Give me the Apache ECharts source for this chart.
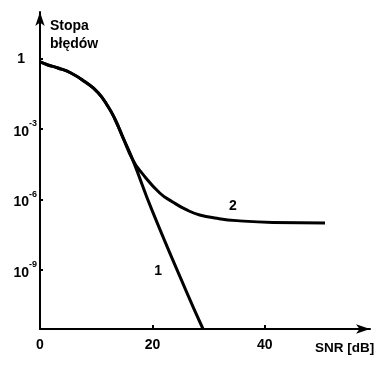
<!DOCTYPE html>
<html>
<head>
<meta charset="utf-8">
<script src="https://cdn.jsdelivr.net/npm/echarts@6/dist/echarts.min.js"></script>
<style>
  html, body { margin: 0; padding: 0; background: #fff; }
  #main { width: 376px; height: 370px; }
</style>
</head>
<body>
<div id="main"></div>
<script>
// wspólny początek obu krzywych (SNR [dB], stopa błędów)
const commonSnr = [0, 1.4, 3.2, 5.5, 8.0, 10.3, 12.1, 13.3, 14.8, 16.5];
const commonBer = [0.74, 0.55, 0.41, 0.25, 0.105, 0.037, 0.0093, 2.8e-3, 4.2e-4, 4.9e-5];
// krzywa 1 - prosta
const snr1 = [19.9, 26.1, 29.0];
const ber1 = [3.6e-7, 1.1e-10, 3.0e-12];
// krzywa 2 - nasycenie
const snr2 = [18.1, 21.3, 23.6, 26.1, 28.4, 31.5, 35.0, 41.4, 50.7];
const ber2 = [1.37e-5, 1.9e-6, 7.9e-7, 3.6e-7, 2.2e-7, 1.58e-7, 1.26e-7, 1.05e-7, 1.0e-7];
// osie
const xTicks = [0, 20, 40];
const yTicks = [1, 1e-3, 1e-6, 1e-9];

const pairs = (xs, ys) => xs.map((x, i) => [x, ys[i]]);

const chart = echarts.init(document.getElementById('main'));
const font = 'Liberation Sans';
const curveLabel = (text, coord) => ({
  symbol: 'circle',
  symbolSize: 1,
  itemStyle: { color: 'rgba(0,0,0,0)' },
  label: { show: true, position: 'inside', formatter: text, color: '#000', fontSize: 14, fontWeight: 'bold', fontFamily: font },
  data: [{ coord: coord }],
});
const option = {
  backgroundColor: '#ffffff',
  animation: false,
  textStyle: { fontFamily: font },
  title: [
    {
      text: 'Stopa\nbłędów',
      left: 50, top: 17,
      padding: 0,
      textStyle: { fontSize: 14, fontWeight: 'bold', color: '#000', lineHeight: 18, fontFamily: font },
    },
  ],
  graphic: [
    {
      type: 'text',
      left: 315, top: 341,
      style: { text: 'SNR [dB]', fontSize: 13.5, fontWeight: 'bold', fill: '#000', fontFamily: font },
    },
  ],
  grid: { left: 40, top: 12, right: 6, bottom: 41, containLabel: false },
  xAxis: {
    type: 'value',
    min: 0, max: 58.7,
    splitLine: { show: false },
    axisLine: { lineStyle: { color: '#000', width: 2 }, symbol: ['none', 'arrow'], symbolSize: [7, 14] },
    axisTick: { customValues: xTicks, length: 4, inside: true, lineStyle: { color: '#000', width: 2 } },
    axisLabel: { customValues: xTicks, color: '#000', fontSize: 14, fontWeight: 'bold', margin: 9 },
  },
  yAxis: {
    type: 'log',
    logBase: 10,
    min: 3.0e-12, max: 100,
    splitLine: { show: false },
    axisLine: { lineStyle: { color: '#000', width: 2 }, symbol: ['none', 'arrow'], symbolSize: [7, 14] },
    axisTick: { customValues: yTicks, length: 3, inside: true, lineStyle: { color: '#000', width: 2 } },
    axisLabel: {
      customValues: yTicks,
      margin: 3,
      color: '#000',
      formatter: (v) => {
        const e = Math.round(Math.log10(v));
        return e === 0 ? '{one|1}' : '{b|10}{s|' + e + '}';
      },
      rich: {
        one: { fontSize: 14, fontWeight: 'bold', color: '#000', fontFamily: font, lineHeight: 20, padding: [0, 12, 0, 0] },
        b: { fontSize: 14, fontWeight: 'bold', color: '#000', fontFamily: font, lineHeight: 20, verticalAlign: 'bottom' },
        s: { fontSize: 9, fontWeight: 'bold', color: '#000', fontFamily: font, lineHeight: 20, verticalAlign: 'top' },
      },
    },
  },
  series: [
    {
      name: '1',
      type: 'line',
      data: pairs(commonSnr.concat(snr1), commonBer.concat(ber1)),
      smooth: 0.5,
      showSymbol: false,
      lineStyle: { color: '#000', width: 3 },
      markPoint: curveLabel('1', [21, 9e-10]),
    },
    {
      name: '2',
      type: 'line',
      data: pairs(commonSnr.concat(snr2), commonBer.concat(ber2)),
      smooth: 0.5,
      showSymbol: false,
      lineStyle: { color: '#000', width: 3 },
      markPoint: curveLabel('2', [34.3, 5.4e-7]),
    },
  ],
};
option && chart.setOption(option);
</script>
</body>
</html>
